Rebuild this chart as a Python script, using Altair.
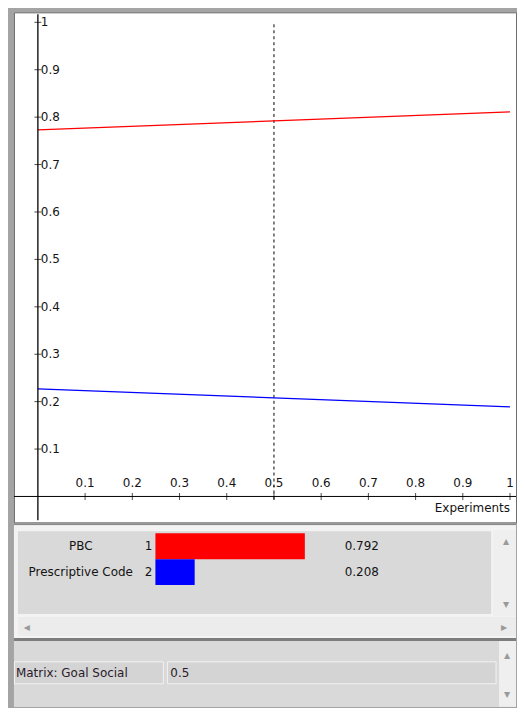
import altair as alt
import pandas as pd

# ---------------- data ----------------
exp_x = [0.0, 0.5, 1.0]
pbc_y = [0.773, 0.792, 0.811]
code_y = [0.227, 0.208, 0.189]

series_names = ["PBC", "Prescriptive Code"]
series_colors = ["#ff0000", "#0000ff"]
series_index = ["1", "2"]
current_values = [0.792, 0.208]

y_tick_values = [0.1, 0.2, 0.3, 0.4, 0.5, 0.6, 0.7, 0.8, 0.9, 1.0]
y_tick_labels = ["0.1", "0.2", "0.3", "0.4", "0.5", "0.6", "0.7", "0.8", "0.9", "1"]
x_tick_values = [0.1, 0.2, 0.3, 0.4, 0.5, 0.6, 0.7, 0.8, 0.9, 1.0]
x_tick_labels = ["0.1", "0.2", "0.3", "0.4", "0.5", "0.6", "0.7", "0.8", "0.9", "1"]

cursor_x = 0.5
x_title = "Experiments"
field_name = "Matrix: Goal Social"
field_value = "0.5"

FONT = "DejaVu Sans"
FS = 12
TXT = "#141414"

# ---------------- main plot ----------------
line_df = pd.DataFrame({
    "x": exp_x * 2,
    "y": pbc_y + code_y,
    "series": [series_names[0]] * len(exp_x) + [series_names[1]] * len(exp_x),
})
ytick_df = pd.DataFrame({"v": y_tick_values, "label": y_tick_labels})
xtick_df = pd.DataFrame({"v": x_tick_values, "label": x_tick_labels})
dummy = alt.Data(values=[{}])

W, H = 504, 512
xs = alt.Scale(domain=[-24 / 474, (W - 24) / 474], nice=False, zero=False)
ys = alt.Scale(domain=[-0.0546, 1.021], nice=False, zero=False)
col_scale = alt.Scale(domain=series_names, range=series_colors)

lines = alt.Chart(line_df).mark_line(strokeWidth=1.2).encode(
    x=alt.X("x:Q", scale=xs, axis=None),
    y=alt.Y("y:Q", scale=ys, axis=None),
    color=alt.Color("series:N", scale=col_scale, legend=None),
)

y_axis_line = alt.Chart(dummy).mark_rule(color="black", strokeWidth=1.3).encode(
    x=alt.X(datum=0, scale=xs, axis=None),
    y=alt.value(2), y2=alt.value(510),
)
x_axis_line = alt.Chart(dummy).mark_rule(color="black", strokeWidth=1).encode(
    y=alt.Y(datum=0, scale=ys, axis=None),
    x=alt.value(0), x2=alt.value(W),
)
y_ticks = alt.Chart(ytick_df).mark_tick(orient="horizontal", size=7, thickness=1, color="black").encode(
    x=alt.X(datum=0, scale=xs, axis=None),
    y=alt.Y("v:Q", scale=ys, axis=None),
)
x_ticks = alt.Chart(xtick_df).mark_tick(orient="vertical", size=7, thickness=1, color="black").encode(
    x=alt.X("v:Q", scale=xs, axis=None),
    y=alt.Y(datum=0, scale=ys, axis=None),
)
y_labels = alt.Chart(ytick_df).mark_text(align="left", baseline="middle", dx=3, font=FONT, fontSize=FS, color=TXT).encode(
    x=alt.X(datum=0, scale=xs, axis=None),
    y=alt.Y("v:Q", scale=ys, axis=None),
    text="label:N",
)
x_labels = alt.Chart(xtick_df).mark_text(align="center", baseline="middle", dy=-14, font=FONT, fontSize=FS, color=TXT).encode(
    x=alt.X("v:Q", scale=xs, axis=None),
    y=alt.Y(datum=0, scale=ys, axis=None),
    text="label:N",
)
cursor = alt.Chart(dummy).mark_rule(color="black", strokeWidth=1, strokeDash=[3, 3]).encode(
    x=alt.X(datum=cursor_x, scale=xs, axis=None),
    y=alt.value(12), y2=alt.value(490),
)
xtitle = alt.Chart(dummy).mark_text(align="right", baseline="middle", font=FONT, fontSize=FS, color=TXT).encode(
    x=alt.value(498), y=alt.value(498), text=alt.value(x_title),
)

main = alt.layer(
    cursor, lines, y_axis_line, x_axis_line, y_ticks, x_ticks, y_labels, x_labels, xtitle
).properties(
    width=W, height=H,
    view=alt.ViewBackground(fill="white", stroke="#6e6e6e", strokeWidth=1),
)

# ---------------- bottom panels ----------------
bar_df = pd.DataFrame({
    "name": series_names,
    "idx": series_index,
    "value": current_values,
})
bx = alt.Scale(domain=[0, 1], range=[142, 331.4], nice=False)
by = alt.Scale(domain=series_names, range=[10, 62], paddingInner=0, paddingOuter=0)


def box(x, x2, y, y2, fill, stroke=None):
    kw = dict(fill=fill)
    if stroke:
        kw.update(stroke=stroke, strokeWidth=1)
    else:
        kw.update(strokeWidth=0)
    return alt.Chart(dummy).mark_rect(**kw).encode(
        x=alt.value(x), x2=alt.value(x2), y=alt.value(y), y2=alt.value(y2)
    )


def glyph(x, y, t, size=8):
    return alt.Chart(dummy).mark_text(font="DejaVu Sans", fontSize=size, color="#9a9a9a",
                                      align="center", baseline="middle").encode(
        x=alt.value(x), y=alt.value(y), text=alt.value(t)
    )


BW, BH = W, 184
decor = [
    box(0, BW, 0, BH, "#e6e6e6"),
    box(0, BW, 0, 2, "#8a8a8a"),
    box(0, BW, 2, 115, "#f3f3f3"),
    box(4, BW - 25, 8, 91, "#d9d9d9"),
    box(BW - 23, BW, 7, 93, "#efefef"),
    glyph(BW - 10, 19, "▲"), glyph(BW - 10, 82, "▼"),
    box(4, BW, 94, 113, "#ececec"),
    glyph(13, 105, "◀"), glyph(BW - 12, 105, "▶"),
    box(0, BW, 115, 118, "#7d7d7d"),
    box(0, BW - 17, 118, BH, "#d9d9d9"),
    box(BW - 17, BW, 118, BH, "#efefef"),
    glyph(BW - 9, 133, "▲"), glyph(BW - 9, 172, "▼"),
    box(0.5, 150, 139, 161, "#d4d4d4", "#f2f2f2"),
    box(154, BW - 20, 139, 161, "#d4d4d4", "#f2f2f2"),
]

bars = alt.Chart(bar_df).mark_bar(strokeWidth=0).encode(
    x=alt.X("value:Q", scale=bx, axis=None),
    y=alt.Y("name:N", scale=by, axis=None, sort=series_names),
    color=alt.Color("name:N", scale=col_scale, legend=None),
)
name_txt = alt.Chart(bar_df).mark_text(align="center", baseline="middle", font=FONT, fontSize=FS, color=TXT).encode(
    x=alt.value(67), y=alt.Y("name:N", scale=by, axis=None, sort=series_names), text="name:N",
)
idx_txt = alt.Chart(bar_df).mark_text(align="right", baseline="middle", font=FONT, fontSize=FS, color=TXT).encode(
    x=alt.value(139), y=alt.Y("name:N", scale=by, axis=None, sort=series_names), text="idx:N",
)
val_txt = alt.Chart(bar_df).mark_text(align="left", baseline="middle", font=FONT, fontSize=FS, color=TXT).encode(
    x=alt.value(332), y=alt.Y("name:N", scale=by, axis=None, sort=series_names),
    text=alt.Text("value:Q", format=".3f"),
)
field_txt = alt.Chart(dummy).mark_text(align="left", baseline="middle", font=FONT, fontSize=FS, color="#2a1a2a").encode(
    x=alt.value(2), y=alt.value(150), text=alt.value(field_name),
)
value_txt = alt.Chart(dummy).mark_text(align="left", baseline="middle", font=FONT, fontSize=FS, color="#2a1a2a").encode(
    x=alt.value(157), y=alt.value(150), text=alt.value(field_value),
)

bottom = alt.layer(*decor, bars, name_txt, idx_txt, val_txt, field_txt, value_txt).properties(
    width=BW, height=BH,
    view=alt.ViewBackground(stroke=None, strokeWidth=0),
)

chart = alt.vconcat(main, bottom, spacing=0).properties(
    padding={"left": 5, "top": 2, "right": 0, "bottom": 0},
    background="#a4a4a4",
).resolve_scale(x="independent", y="independent", color="shared")

chart.save("out.html", embed_options={"renderer": "svg", "actions": False})
